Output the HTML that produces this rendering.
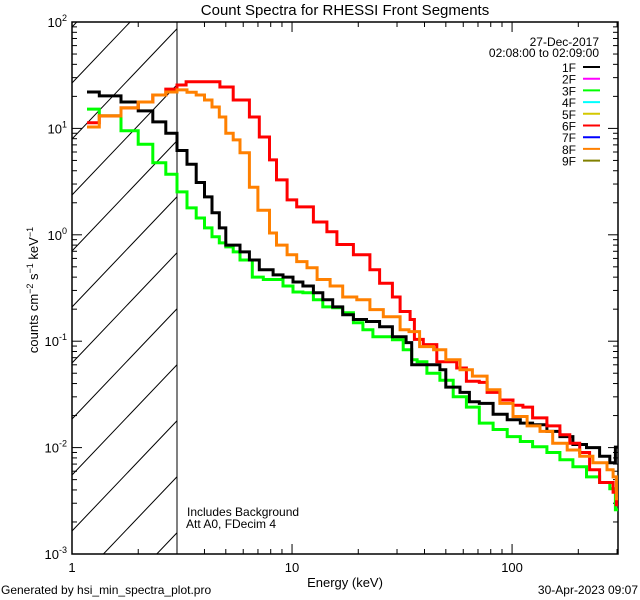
<!DOCTYPE html>
<html><head><meta charset="utf-8"><style>
html,body{margin:0;padding:0;background:#fff;overflow:hidden;width:640px;height:600px;}
svg{display:block;overflow:hidden;}
svg text{font-family:"Liberation Sans",sans-serif;fill:#000;}
</style></head><body>
<svg id="chart" width="640" height="600" viewBox="0 0 640 600" overflow="hidden" xmlns="http://www.w3.org/2000/svg">
<defs><clipPath id="plotclip"><rect x="72" y="22" width="546" height="532"/></clipPath>
<clipPath id="hatchclip"><rect x="72" y="22" width="105" height="532"/></clipPath></defs>
<text x="345" y="15" font-size="15" text-anchor="middle">Count Spectra for RHESSI Front Segments</text>
<g id="hatch" clip-path="url(#hatchclip)"></g>
<g id="axes"></g>
<g id="series" clip-path="url(#plotclip)"></g>
<g transform="translate(38,290) rotate(-90)"><text x="0" y="0" font-size="13" text-anchor="middle">counts cm<tspan dy="-5" font-size="9">−2</tspan><tspan dy="5"> s</tspan><tspan dy="-5" font-size="9">−1</tspan><tspan dy="5"> keV</tspan><tspan dy="-5" font-size="9">−1</tspan></text></g>
<text x="345" y="587" font-size="13" text-anchor="middle">Energy (keV)</text>
<text x="599" y="46" font-size="12" text-anchor="end">27-Dec-2017</text>
<text x="599" y="57" font-size="12" text-anchor="end">02:08:00 to 02:09:00</text>
<g id="legend"></g>
<text x="187" y="516" font-size="12">Includes Background</text>
<text x="186" y="528" font-size="12">Att A0, FDecim 4</text>
<text x="1" y="594" font-size="12">Generated by hsi_min_spectra_plot.pro</text>
<text x="638" y="594" font-size="12" text-anchor="end">30-Apr-2023 09:07</text>
</svg>
<script>
// ---- data ----
const xDomain=[1,303];
const yDomain=[0.001,100];
const xTickLabels=["1","10","100"];
const xTickValues=[1,10,100];
const yTickExps=[-3,-2,-1,0,1,2];
const legendLabels=["1F","2F","3F","4F","5F","6F","7F","8F","9F"];
const legendColors=["#000000","#ff00ff","#00ff00","#00ffff","#d4c800","#ff0000","#0000ff","#ff8000","#808000"];
const endEnergy=303;
// 1F black
const e1=[1.17,1.33,1.67,2,2.33,2.67,3,3.33,3.67,4,4.33,4.67,5,5.8,6.4,7.1,8.2,9.1,10.1,11.2,12.5,13.8,15.3,17,19,21.8,25,28.6,33,35,47,50,58,64,71,82,95,109,124,144,165,189,218,250,278,295];
const v1=[22,20.2,17.7,14.6,11.5,9.0,6.2,4.6,3.1,2.27,1.61,1.16,0.8,0.69,0.58,0.47,0.42,0.40,0.36,0.33,0.285,0.245,0.21,0.177,0.16,0.153,0.137,0.11,0.097,0.06,0.054,0.037,0.033,0.027,0.026,0.0206,0.0183,0.017,0.0164,0.0142,0.0127,0.0107,0.0100,0.0083,0.0072,0.0101];
// 3F green
const e3=[1.17,1.33,1.67,2,2.33,2.67,3,3.33,3.67,4,4.33,4.67,5,5.4,5.8,6.6,7.4,9.1,10.1,11.2,12.5,13.8,15.3,17,19,21,23.3,28.6,32,35,37,41,47,54,62,71,82,95,109,124,144,165,189,218,250,278,295];
const v3=[15.2,13.1,9.5,7.1,4.75,3.7,2.53,1.79,1.44,1.16,0.96,0.84,0.77,0.69,0.58,0.40,0.38,0.33,0.29,0.285,0.245,0.21,0.206,0.185,0.149,0.128,0.11,0.103,0.083,0.067,0.064,0.05,0.043,0.030,0.024,0.017,0.0148,0.0127,0.0114,0.0102,0.009,0.0077,0.0066,0.0053,0.0047,0.0041,0.0026];
// 6F red
const e6=[1.17,1.33,1.67,2,2.33,2.67,3,3.3,4.7,5.4,6.4,7.1,7.9,8.5,9.5,10.5,12.5,14.4,16,19,22.6,25,28.6,31,34.4,36,39.5,45.5,56,62,71,77,88,101,112,124,144,165,183,203,225,250,288,298];
const v6=[11.3,13.1,15.6,17.7,20.6,23.4,25.6,27.5,24.5,18.5,12.8,8.3,5.06,3.28,2.13,1.83,1.32,1.07,0.81,0.65,0.47,0.35,0.26,0.19,0.16,0.104,0.093,0.064,0.056,0.042,0.041,0.033,0.028,0.025,0.024,0.019,0.016,0.0132,0.011,0.009,0.0062,0.0047,0.0038,0.0029];
// 8F orange
const e8=[1.17,1.33,1.67,2,2.33,2.67,3,3.33,3.67,4,4.33,4.67,5.0,5.4,5.8,6.4,7,7.9,8.5,9.5,10.5,11.7,13,14.9,17,19.7,22.6,26,31,34,38,44,50,58,66,77,88,101,117,134,153,178,203,233,270,288,298];
const v8=[10.3,13.1,15.6,17.7,20.6,22,23,21.9,20.6,18.5,15.9,12.8,9,7.8,5.9,2.8,1.7,1.04,0.8,0.65,0.56,0.49,0.38,0.33,0.26,0.245,0.198,0.17,0.128,0.123,0.089,0.083,0.067,0.054,0.047,0.035,0.026,0.0196,0.016,0.0142,0.011,0.0095,0.0083,0.0072,0.0062,0.0053,0.0033];

// ---- scales ----
const L=72,R=618,T=22,B=554;
function xs(e){return L+(R-L)*(Math.log10(e)-Math.log10(xDomain[0]))/(Math.log10(xDomain[1])-Math.log10(xDomain[0]));}
function ys(v){return B-(B-T)*(Math.log10(v)-Math.log10(yDomain[0]))/(Math.log10(yDomain[1])-Math.log10(yDomain[0]));}
const NS="http://www.w3.org/2000/svg";
function mk(tag,attrs,parent){const el=document.createElementNS(NS,tag);for(const k in attrs)el.setAttribute(k,attrs[k]);parent.appendChild(el);return el;}

// hatch (lines of slope ~ -1.05 inside region 72..177)
const hatch=document.getElementById('hatch');
const HX0=72,HX1=177,slope=1.05;
for(let i=-2;i<12;i++){
  const y0=83+i*56;
  const ya=y0, yb=y0-(HX1-HX0)*slope;
  const ln=mk('line',{x1:HX0,y1:Math.min(ya,B),x2:HX1,y2:yb,stroke:'#000','stroke-width':1},hatch);
  if(ya>B){ln.setAttribute('x1',HX0+(ya-B)/slope);}
  if(yb<T){ln.setAttribute('x2',HX0+(ya-T)/slope);ln.setAttribute('y2',T);}
  if(yb>B||ya<T){ln.remove();continue;}
  
  
}
const cut=mk('line',{x1:177,y1:T,x2:177,y2:B,stroke:'#000','stroke-width':1},document.getElementById('axes'));



// axes
const ax=document.getElementById('axes');
const frame=mk('rect',{x:L,y:T,width:R-L,height:B-T,fill:'none',stroke:'#000','stroke-width':1.5},ax);


for(let d=0;d<3;d++){for(let m=1;m<10;m++){const e=Math.pow(10,d)*m;if(e>xDomain[1])break;const x=xs(e);const len=m===1?10:5;
  const t1=mk('line',{x1:x,y1:B,x2:x,y2:B-len,stroke:'#000'},ax);
  
  
  const t2=mk('line',{x1:x,y1:T,x2:x,y2:T+len,stroke:'#000'},ax);
  
  }}
xTickValues.forEach((v,i)=>{const t=mk('text',{x:xs(v),y:B+18,'font-size':13,'text-anchor':'middle'},ax);t.textContent=xTickLabels[i];
  
  });
yTickExps.forEach(p=>{for(let m=1;m<10;m++){if(p===2&&m>1)break;const y=ys(Math.pow(10,p)*m);const len=m===1?10:5;
  const t1=mk('line',{x1:L,y1:y,x2:L+len,y2:y,stroke:'#000'},ax);
  
  
  const t2=mk('line',{x1:R,y1:y,x2:R-len,y2:y,stroke:'#000'},ax);
  
  }
  const t=mk('text',{x:L-5,y:ys(Math.pow(10,p))+5,'font-size':13,'text-anchor':'end'},ax);
  
  
  t.innerHTML='10<tspan dy="-6" font-size="9">'+p+'</tspan>';});

// series
const sg=document.getElementById('series');
function drawStep(es,vs,color,name){let d='';for(let i=0;i<es.length;i++){const x0=xs(es[i]);const x1=xs(i+1<es.length?es[i+1]:endEnergy);const y=ys(vs[i]);d+=(i===0?'M':'L')+x0.toFixed(1)+','+y.toFixed(1)+'L'+x1.toFixed(1)+','+y.toFixed(1);}
  const p=mk('path',{d:d,fill:'none',stroke:color,'stroke-width':3,'stroke-linejoin':'miter'},sg);
  
  }
drawStep(e3,v3,'#00ff00','series-3f');
drawStep(e1,v1,'#000000','series-1f');
drawStep(e6,v6,'#ff0000','series-6f');
drawStep(e8,v8,'#ff8000','series-8f');

// legend
const lg=document.getElementById('legend');
legendLabels.forEach((lab,i)=>{const y=68+i*11.7;
  const t=mk('text',{x:576,y:y+4,'font-size':12,'text-anchor':'end'},lg);t.textContent=lab;
  
  
  const l=mk('line',{x1:583,y1:y-1,x2:600,y2:y-1,stroke:legendColors[i],'stroke-width':2},lg);
  
  });
</script>
</body></html>
